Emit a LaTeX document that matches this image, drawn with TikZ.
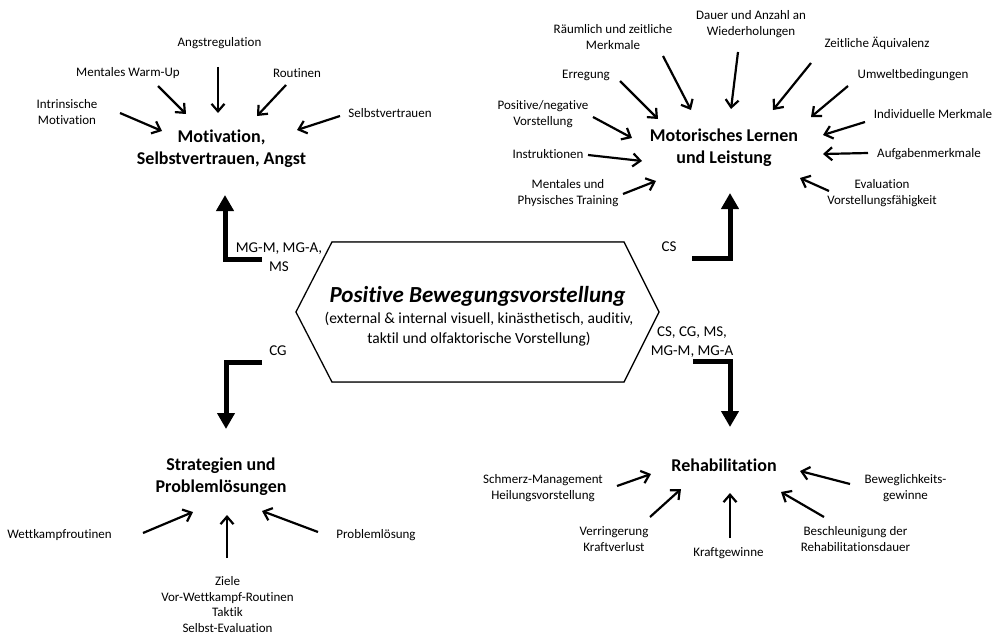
\documentclass[tikz,border=0pt]{standalone}
\usepackage{fontspec}
\setmainfont{Carlito}[Ligatures=NoCommon]
\usetikzlibrary{arrows.meta}
\begin{document}
\begin{tikzpicture}[x=1pt,y=-1pt,
  lbl/.style={inner sep=0pt,align=center,font=\fontsize{13}{16}\selectfont},
  ttl/.style={inner sep=0pt,align=center,font=\fontsize{18}{22}\selectfont\bfseries},
  code/.style={inner sep=0pt,align=center,font=\fontsize{15}{19}\selectfont},
  thinarr/.style={line width=2.2pt,-{Straight Barb[length=7.5pt,width=13pt]}},
  thickarr/.style={line width=5pt,line join=miter,-{Triangle[length=16pt,width=17pt]}},
  hexline/.style={line width=1.2pt,line join=miter,fill=white}]
\fill[white] (0,0) rectangle (1002,634);
\useasboundingbox (0,0) rectangle (1002,634);

% ---------- central hexagon ----------
\coordinate (h1) at (332,242); \coordinate (h2) at (624,242);
\coordinate (h3) at (659,312); \coordinate (h4) at (624,382);
\coordinate (h5) at (332,382); \coordinate (h6) at (296,312);
\draw[line width=1.6pt,gray!60,line join=miter,shift={(1.6,1.6)}] (h1) -- (h2) -- (h3) -- (h4) -- (h5) -- (h6) -- cycle;
\draw[hexline] (h1) -- (h2) -- (h3) -- (h4) -- (h5) -- (h6) -- cycle;
\node[inner sep=0pt,font=\fontsize{23}{27}\selectfont\bfseries\itshape] (hexttl) at (477.5,296) {Positive Bewegungsvorstellung};
\node[inner sep=0pt,align=center,font=\fontsize{15.5}{19.5}\selectfont] (hexsub) at (479,329) {(external \& internal visuell, kinästhetisch, auditiv,\\taktil und olfaktorische Vorstellung)};

% ---------- thick connectors ----------
\node[code] (lTL) at (279,257.5) {MG-M, MG-A,\\MS};
\node[code] (lTR) at (669,247) {CS};
\node[code] (lBL) at (278,351) {CG};
\node[code] (lBR) at (692,342) {CS, CG, MS,\\MG-M, MG-A};
\coordinate (e1s) at (262,259); \coordinate (e1c) at (225,259); \coordinate (e1e) at (225,195);
\coordinate (e2s) at (692,258); \coordinate (e2c) at (730,258); \coordinate (e2e) at (730,193);
\coordinate (e3s) at (262,362); \coordinate (e3c) at (226,362); \coordinate (e3e) at (226,429);
\coordinate (e4s) at (693,361); \coordinate (e4c) at (730,361); \coordinate (e4e) at (730,427);
\draw[thickarr] (e1s) -- (e1c) -- (e1e);
\draw[thickarr] (e2s) -- (e2c) -- (e2e);
\draw[thickarr] (e3s) -- (e3c) -- (e3e);
\draw[thickarr] (e4s) -- (e4c) -- (e4e);

% ---------- top left: Motivation ----------
\node[ttl] (mot) at (221.5,149) {Motivation,\\Selbstvertrauen, Angst};
\node[lbl] (angst) at (219.5,43) {Angstregulation};
\node[lbl] (warm) at (128,73) {Mentales Warm-Up};
\node[lbl] (rout) at (297,73) {Routinen};
\node[lbl] (intr) at (67,112) {Intrinsische\\Motivation};
\node[lbl] (selbst) at (390,113) {Selbstvertrauen};
\coordinate (a1s) at (218,67);  \coordinate (a1e) at (218,113);
\coordinate (a2s) at (158,86);  \coordinate (a2e) at (186,114);
\coordinate (a3s) at (286,85);  \coordinate (a3e) at (257,116);
\coordinate (a4s) at (120,113); \coordinate (a4e) at (162,131);
\coordinate (a5s) at (340,116); \coordinate (a5e) at (297,130);
\foreach \i in {1,...,5} \draw[thinarr] (a\i s) -- (a\i e);

% ---------- top right: Motorisches Lernen ----------
\node[ttl] (motl) at (724,148) {Motorisches Lernen\\und Leistung};
\node[lbl] (dauer) at (751,24) {Dauer und Anzahl an\\Wiederholungen};
\node[lbl] (raum) at (613,37) {Räumlich und zeitliche\\Merkmale};
\node[lbl] (zeit) at (877,43) {Zeitliche Äquivalenz};
\node[lbl] (erreg) at (586,75) {Erregung};
\node[lbl] (umwelt) at (913,75) {Umweltbedingungen};
\node[lbl] (posneg) at (543,114.5) {Positive/negative\\Vorstellung};
\node[lbl] (indiv) at (933,114) {Individuelle Merkmale};
\node[lbl] (instr) at (548,154) {Instruktionen};
\node[lbl] (aufg) at (929,154) {Aufgabenmerkmale};
\node[lbl] (ment) at (568,193.5) {Mentales und\\Physisches Training};
\node[lbl] (eval) at (882,193.5) {Evaluation\\Vorstellungsfähigkeit};
\coordinate (b1s) at (738,52);  \coordinate (b1e) at (731,109);
\coordinate (b2s) at (663,56);  \coordinate (b2e) at (691,110);
\coordinate (b3s) at (811,63);  \coordinate (b3e) at (773,110);
\coordinate (b4s) at (620,81);  \coordinate (b4e) at (658,119);
\coordinate (b5s) at (848,86);  \coordinate (b5e) at (811,117);
\coordinate (b6s) at (593,117); \coordinate (b6e) at (632,138);
\coordinate (b7s) at (865,122); \coordinate (b7e) at (823,135);
\coordinate (b8s) at (588,155); \coordinate (b8e) at (642,161);
\coordinate (b9s) at (868,153); \coordinate (b9e) at (823,154);
\coordinate (b10s) at (623,194); \coordinate (b10e) at (656,181);
\coordinate (b11s) at (829,191); \coordinate (b11e) at (800,178);
\foreach \i in {1,...,11} \draw[thinarr] (b\i s) -- (b\i e);

% ---------- bottom left: Strategien ----------
\node[ttl] (strat) at (221,477) {Strategien und\\Problemlösungen};
\node[lbl] (wett) at (59.5,535) {Wettkampfroutinen};
\node[lbl] (probl) at (376,535) {Problemlösung};
\node[inner sep=0pt,align=center,font=\fontsize{13}{15.7}\selectfont] (ziele) at (227.5,604.5) {Ziele\\Vor-Wettkampf-Routinen\\Taktik\\Selbst-Evaluation};
\coordinate (c1s) at (143,533); \coordinate (c1e) at (193,512);
\coordinate (c2s) at (227,558); \coordinate (c2e) at (227,515);
\coordinate (c3s) at (318,532); \coordinate (c3e) at (262,511);
\foreach \i in {1,...,3} \draw[thinarr] (c\i s) -- (c\i e);

% ---------- bottom right: Rehabilitation ----------
\node[ttl] (reha) at (724,465) {Rehabilitation};
\node[lbl] (schm) at (543,488) {Schmerz-Management\\Heilungsvorstellung};
\node[lbl] (verr) at (614,539.5) {Verringerung\\Kraftverlust};
\node[lbl] (kraft) at (728.5,553) {Kraftgewinne};
\node[lbl] (besch) at (855.5,539.5) {Beschleunigung der\\Rehabilitationsdauer};
\node[lbl] (bew) at (905.5,488) {Beweglichkeits-\\gewinne};
\coordinate (d1s) at (617,486); \coordinate (d1e) at (651,474);
\coordinate (d2s) at (650,517); \coordinate (d2e) at (681,489);
\coordinate (d3s) at (730,538); \coordinate (d3e) at (730,493);
\coordinate (d4s) at (824,517); \coordinate (d4e) at (781,492);
\coordinate (d5s) at (850,484); \coordinate (d5e) at (800,471);
\foreach \i in {1,...,5} \draw[thinarr] (d\i s) -- (d\i e);
\end{tikzpicture}
\end{document}
